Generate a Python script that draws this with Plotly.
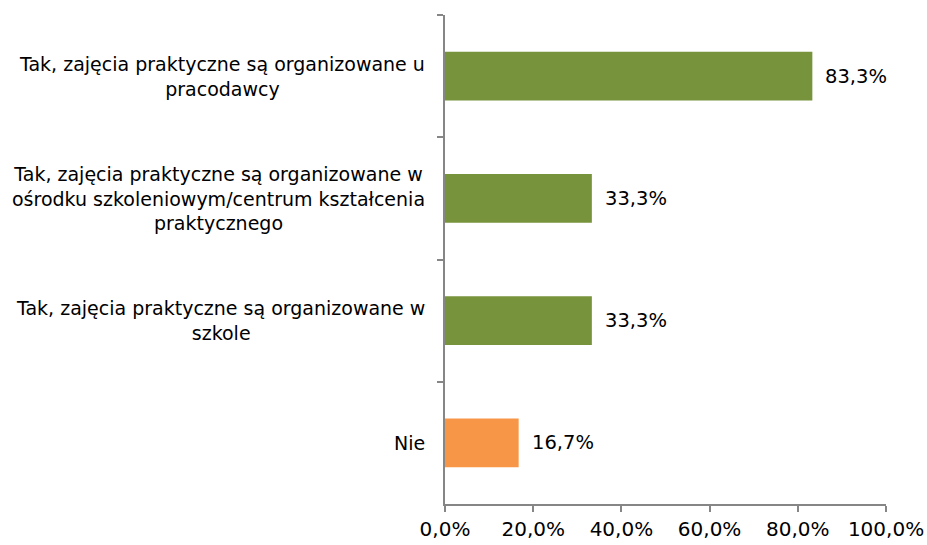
import plotly.graph_objects as go

categories = [
    "Tak, zajęcia praktyczne są organizowane u<br>pracodawcy",
    "Tak, zajęcia praktyczne są organizowane w<br>ośrodku szkoleniowym/centrum kształcenia<br>praktycznego",
    "Tak, zajęcia praktyczne są organizowane w<br>szkole",
    "Nie",
]
values = [0.833, 0.333, 0.333, 0.167]
colors = ["#77933C", "#77933C", "#77933C", "#F79646"]
tick_vals = [0, 0.2, 0.4, 0.6, 0.8, 1.0]

FONT = "DejaVu Sans"

fig = go.Figure()
fig.add_trace(go.Bar(
    y=categories,
    x=values,
    orientation="h",
    marker=dict(color=colors, line=dict(width=0)),
    width=0.4,
    hoverinfo="skip",
))

# category labels (centred lines, block anchored at the right)
for cat in categories:
    fig.add_annotation(
        x=-0.04, xref="paper", y=cat, yref="y",
        text=cat, showarrow=False, xanchor="right", yanchor="middle",
        align="center", font=dict(family=FONT, size=19, color="#000000"),
    )

# value labels
for cat, v in zip(categories, values):
    fig.add_annotation(
        x=v, xref="x", y=cat, yref="y",
        text=f"{v*100:.1f}%".replace(".", ","), showarrow=False,
        xanchor="left", yanchor="middle", xshift=11,
        font=dict(family=FONT, size=19.5, color="#000000"),
    )

fig.update_layout(
    width=927, height=545,
    margin=dict(l=445, r=41, t=15, b=41, autoexpand=False),
    paper_bgcolor="white", plot_bgcolor="white",
    separators=",.",
    showlegend=False,
    font=dict(family=FONT, size=19, color="#000000"),
    xaxis=dict(
        range=[0, 1], tickvals=tick_vals, tickformat=".1%",
        showgrid=False, zeroline=False, automargin=False,
        showline=True, linecolor="#868686", linewidth=1.5,
        ticks="outside", ticklen=6, tickcolor="#868686", tickwidth=1.5,
        tickfont=dict(family=FONT, size=20, color="#000000"),
    ),
    yaxis=dict(
        autorange="reversed", showticklabels=False, automargin=False,
        showgrid=False, zeroline=False,
        showline=True, linecolor="#868686", linewidth=1.5,
        ticks="outside", ticklen=6, tickcolor="#868686", tickwidth=1.5,
        tickson="boundaries",
    ),
)

fig.write_html(
    "out.html",
    config={"displayModeBar": False},
    post_script="document.body.style.margin='0';",
)
